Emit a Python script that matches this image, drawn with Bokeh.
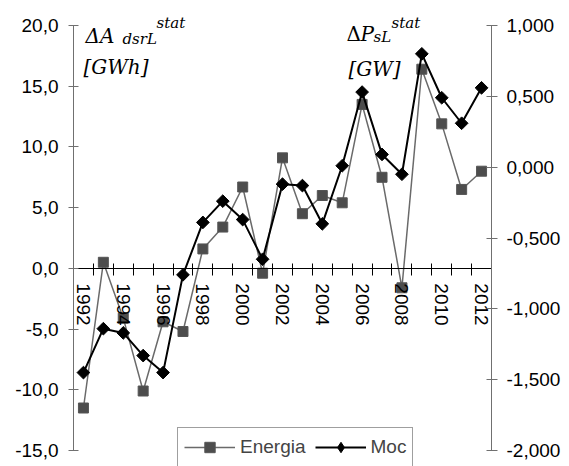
import numpy as np
from bokeh.plotting import figure
from bokeh.models import (Range1d, LinearAxis, FixedTicker, CustomJSTickFormatter,
                          Label, Legend, LegendItem)
from bokeh.embed import file_html
from bokeh.resources import INLINE

# ---- data ----
years = list(range(1992, 2013))
energia = [-11.5, 0.5, -4.1, -10.1, -4.4, -5.2, 1.6, 3.4, 6.7, -0.4, 9.1,
           4.5, 6.0, 5.4, 13.5, 7.5, -1.6, 16.4, 11.9, 6.5, 8.0]          # GWh
moc = [-1.45, -1.14, -1.17, -1.33, -1.45, -0.76, -0.39, -0.24, -0.37, -0.65, -0.12,
       -0.13, -0.40, 0.01, 0.53, 0.09, -0.05, 0.80, 0.49, 0.31, 0.56]      # GW
left_ticks = [-15, -10, -5, 0, 5, 10, 15, 20]
right_ticks = [-2.0, -1.5, -1.0, -0.5, 0.0, 0.5, 1.0]
year_labels = [1992, 1994, 1996, 1998, 2000, 2002, 2004, 2006, 2008, 2010, 2012]
series_names = ["Energia", "Moc"]

SANS = "Liberation Sans"
SERIF = "DejaVu Serif"
FS = "19px"

W, H = 569, 466
TOP_PX, BOT_PX = 25, 450
ppu_l = (BOT_PX - TOP_PX) / (left_ticks[-1] - left_ticks[0])
ppu_r = (BOT_PX - TOP_PX) / (right_ticks[-1] - right_ticks[0])
yl0 = left_ticks[0] - (H - BOT_PX) / ppu_l
yl1 = left_ticks[-1] + TOP_PX / ppu_l
yr0 = right_ticks[0] - (H - BOT_PX) / ppu_r
yr1 = right_ticks[-1] + TOP_PX / ppu_r

p = figure(width=W, height=H, output_backend="svg", toolbar_location=None,
           x_range=Range1d(years[0] - 0.5, years[-1] + 0.5),
           y_range=Range1d(yl0, yl1),
           x_axis_location=None, y_axis_location="left",
           min_border_left=73, min_border_right=78, min_border_top=0,
           min_border_bottom=0)
p.extra_y_ranges = {"moc": Range1d(yr0, yr1)}
for g in p.grid:
    g.visible = False
p.outline_line_color = None
p.background_fill_color = "white"

AX = "#707070"

la = p.yaxis[0]
la.bounds = (left_ticks[0], left_ticks[-1])
la.ticker = FixedTicker(ticks=left_ticks)
la.formatter = CustomJSTickFormatter(code="return tick.toFixed(1).replace('.', ',')")
la.major_tick_in = 5
la.major_tick_out = 5
la.minor_tick_line_color = None
la.axis_line_color = AX
la.major_tick_line_color = AX
la.major_label_text_font = SANS
la.major_label_text_font_size = FS
la.major_label_text_color = "black"
la.major_label_standoff = 10

ra = LinearAxis(y_range_name="moc", ticker=FixedTicker(ticks=right_ticks),
                bounds=(right_ticks[0], right_ticks[-1]),
                formatter=CustomJSTickFormatter(code="return tick.toFixed(3).replace('.', ',')"),
                major_tick_in=5, major_tick_out=6, minor_tick_line_color=None,
                axis_line_color=AX, major_tick_line_color=AX,
                major_label_text_font=SANS, major_label_text_font_size=FS,
                major_label_text_color="black", major_label_standoff=9)
p.add_layout(ra, "right")

# x axis: ticks between categories, crossing at y=0; labels every other year
bounds = [y - 0.5 for y in years] + [years[-1] + 0.5]
xt = LinearAxis(ticker=FixedTicker(ticks=bounds), fixed_location=0,
                formatter=CustomJSTickFormatter(code="return ''"),
                major_tick_in=5, major_tick_out=7, minor_tick_line_color=None,
                axis_line_color="black", major_tick_line_color="black")
p.add_layout(xt, "below")
xl = LinearAxis(ticker=FixedTicker(ticks=year_labels), fixed_location=0,
                formatter=CustomJSTickFormatter(code="return tick.toFixed(0)"),
                major_tick_in=0, major_tick_out=0, minor_tick_line_color=None,
                axis_line_color=None, major_tick_line_color=None,
                major_label_orientation="vertical", major_label_standoff=15,
                major_label_text_font=SANS, major_label_text_font_size=FS,
                major_label_text_color="black")
p.add_layout(xl, "below")

e_line = p.line(years, energia, line_color="#6a6a6a", line_width=1.5)
e_pts = p.scatter(years, energia, marker="square", size=10,
                  fill_color="#4d4d4d", line_color="#555555")
m_line = p.line(years, moc, y_range_name="moc", line_color="black", line_width=2)
m_pts = p.scatter(years, moc, y_range_name="moc", marker="square", angle=np.pi / 4,
                  size=9, fill_color="black", line_color="black")
# legend proxy for the diamond symbol (a single undrawn point)
m_leg = p.scatter(x=[years[0]], y=[float("nan")], y_range_name="moc", marker="diamond",
                  fill_color="black", line_color="black")

legend = Legend(items=[LegendItem(label=series_names[0], renderers=[e_line, e_pts]),
                       LegendItem(label=series_names[1], renderers=[m_line, m_leg])],
                orientation="horizontal", location=(104, -1),
                label_text_font=SANS, label_text_font_size=FS,
                glyph_width=51, glyph_height=26, label_height=24,
                label_standoff=5, spacing=9, padding=6, margin=0,
                border_line_color="#404040", border_line_width=1,
                background_fill_color="white", background_fill_alpha=1)
p.add_layout(legend)

def xd(px):
    return years[0] - 0.5 + (px - 73) * (len(years)) / (W - 73 - 78)

def yd(py):
    return left_ticks[-1] - (py - TOP_PX) / ppu_l

def lab(txt, px, py, size, style="italic"):
    p.add_layout(Label(x=xd(px), y=yd(py), text=txt, text_font=SERIF,
                       text_font_size=size, text_font_style=style,
                       text_align="left", text_baseline="alphabetic",
                       text_color="black"))

lab("ΔA", 85, 35, "20px")
lab("dsrL", 122, 38, "15px")
lab("stat", 156, 22, "15px")
lab("[GWh]", 83, 66, "20px")

lab("Δ", 346, 33, "20px", "normal")
lab("P", 360, 33, "20px")
lab("sL", 373, 36, "15px")
lab("stat", 391, 22, "15px")
lab("[GW]", 348, 68, "20px")

open("out.html", "w").write(file_html(p, INLINE))
